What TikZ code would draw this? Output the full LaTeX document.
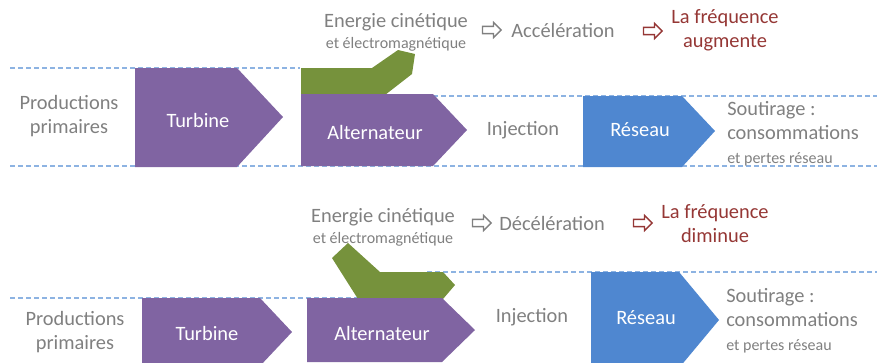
\documentclass[tikz,border=0pt]{standalone}
\usepackage{fontspec}
\setmainfont{Carlito}
\usetikzlibrary{shapes.arrows}
\definecolor{prodviolet}{HTML}{8064A2}
\definecolor{vertolive}{HTML}{76923C}
\definecolor{bleureseau}{HTML}{4F87D0}
\definecolor{bleutiret}{HTML}{8DB3E2}
\definecolor{gristexte}{HTML}{808080}
\definecolor{rougefreq}{HTML}{953735}
\newcommand\grand{\fontsize{15.3}{18}\selectfont}
\newcommand\petit{\fontsize{12}{14}\selectfont}

\begin{document}
\begin{tikzpicture}[x=.75pt,y=-.75pt,
  sep/.style={draw=bleutiret,line width=1.7pt,dash pattern=on 3.5pt off 2.5pt},
  prod/.style={fill=prodviolet},
  stock/.style={fill=vertolive},
  reseau/.style={fill=bleureseau},
  gris/.style={text=gristexte,font=\grand,inner sep=0pt,align=center},
  blanc/.style={text=white,font=\grand,inner sep=0pt},
  rouge/.style={text=rougefreq,font=\grand,inner sep=0pt,align=center},
  fleche/.style={single arrow,draw=#1,line width=1pt,inner sep=2.2pt,minimum height=14pt,single arrow head extend=3pt}]
  \clip (0,0) rectangle (877,362);
  % production > consommation
  \draw[sep] (10,68) -- (300,68);
  \draw[sep] (433,96) -- (877,96);
  \draw[sep] (10,166) -- (877,166);
  \fill[prod] (135,68) -- (237,68) -- (283,117) -- (237,167) -- (135,167) -- cycle;
  \fill[stock] (301,68) -- (372,68) -- (398,50) -- (415,54) -- (412,74) -- (385,95) -- (301,95) -- cycle;
  \fill[prod] (301,94) -- (433,94) -- (467,130) -- (433,166) -- (301,166) -- cycle;
  \fill[reseau] (583,96) -- (682,96) -- (715,131) -- (682,167) -- (583,167) -- cycle;
  \node[gris] (prodA) at (69,116) {Productions\\primaires};
  \node[blanc] (turbA) at (198,120) {Turbine};
  \node[blanc] (altA) at (375,132) {Alternateur};
  \node[gris] (injA) at (523,130) {Injection};
  \node[blanc] (resA) at (640,130) {Réseau};
  \node[gris,align=left,anchor=west] (soutA) at (727,134) {Soutirage :\\consommations\\{\petit et pertes réseau}};
  \node[gris] (enerA) at (396,32) {Energie cinétique\\[-2pt]{\petit et électromagnétique}};
  \node[fleche=gristexte] (flA) at (490,30) {};
  \node[gris] (accA) at (563,30) {Accélération};
  \node[fleche=rougefreq] (frA) at (651,31) {};
  \node[rouge] (freqA) at (725,30) {La fréquence\\augmente};
  % production < consommation
  \draw[sep] (10,298) -- (358,298);
  \draw[sep] (427,272) -- (877,272);
  \fill[prod] (142,298) -- (260,298) -- (292,332) -- (260,366) -- (142,366) -- cycle;
  \fill[stock] (332,258) -- (348,243) -- (380,272) -- (443,272) -- (455,285) -- (443,299) -- (358,299) -- cycle;
  \fill[prod] (307,298) -- (442,298) -- (475,330) -- (442,362) -- (307,362) -- cycle;
  \fill[reseau] (591,272) -- (679,272) -- (719,320) -- (679,368) -- (591,368) -- cycle;
  \node[gris] (prodB) at (75,332) {Productions\\primaires};
  \node[blanc] (turbB) at (207,333) {Turbine};
  \node[blanc] (altB) at (382,333) {Alternateur};
  \node[gris] (injB) at (532,317) {Injection};
  \node[blanc] (resB) at (646,318) {Réseau};
  \node[gris,align=left,anchor=west] (soutB) at (726,321) {Soutirage :\\consommations\\{\petit et pertes réseau}};
  \node[gris] (enerB) at (383,227) {Energie cinétique\\[-2pt]{\petit et électromagnétique}};
  \node[fleche=gristexte] (flB) at (480,223) {};
  \node[gris] (decB) at (552,223) {Décélération};
  \node[fleche=rougefreq] (frB) at (641,223) {};
  \node[rouge] (freqB) at (715,224) {La fréquence\\diminue};
\end{tikzpicture}
\end{document}
